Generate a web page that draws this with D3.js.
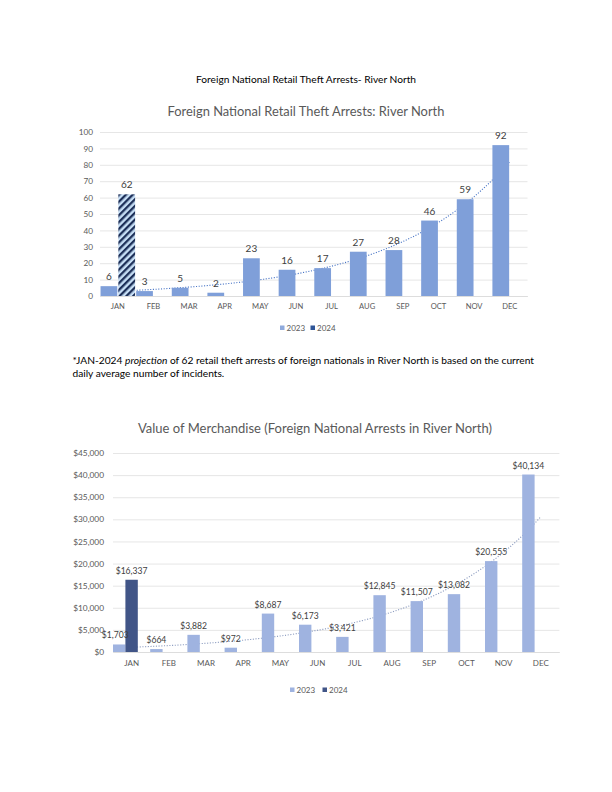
<!DOCTYPE html>
<html>
<head>
<meta charset="utf-8">
<script src="https://cdn.jsdelivr.net/npm/d3@7"></script>
<style>
  html, body { margin: 0; padding: 0; background: #fff; }
  svg { display: block; font-family: Lato, "Open Sans", sans-serif; }
</style>
</head>
<body>
<svg id="page" width="612" height="792"></svg>
<script>
// ---------- DATA ----------
const months = ["JAN","FEB","MAR","APR","MAY","JUN","JUL","AUG","SEP","OCT","NOV","DEC"];
const arrests2023 = [6,3,5,2,23,16,17,27,28,46,59,92];
const arrests2024 = [62];            // JAN-2024 projection
const value2023 = [1703,664,3882,972,8687,6173,3421,12845,11507,13082,20555,40134];
const value2024 = [16337];
const arrestTicks = [0,10,20,30,40,50,60,70,80,90,100];
const valueTicks = [0,5000,10000,15000,20000,25000,30000,35000,40000,45000];
const seriesNames = ["2023","2024"];

const pageTitle = "Foreign National Retail Theft Arrests- River North";
const chart1Title = "Foreign National Retail Theft Arrests: River North";
const chart2Title = "Value of Merchandise (Foreign National Arrests in River North)";

// ---------- helpers ----------
function expFit(vals) {
  const xs = vals.map((_, i) => i + 1);
  const ly = vals.map(v => Math.log(v));
  const mx = d3.mean(xs), my = d3.mean(ly);
  let sxy = 0, sxx = 0;
  xs.forEach((x, i) => { sxy += (x - mx) * (ly[i] - my); sxx += (x - mx) * (x - mx); });
  const b = sxy / sxx;
  const a = Math.exp(my - b * mx);
  return x => a * Math.exp(b * x);
}

const svg = d3.select("#page");

// defs: hatch pattern
const defs = svg.append("defs");
const pat = defs.append("pattern")
  .attr("id", "hatch")
  .attr("patternUnits", "userSpaceOnUse")
  .attr("width", 4.8).attr("height", 4.8)
  .attr("patternTransform", "rotate(45)");
pat.append("rect").attr("width", 4.8).attr("height", 4.8).attr("fill", "#c6def5");
pat.append("rect").attr("width", 2.3).attr("height", 4.8).attr("fill", "#1d2f58");

// page heading
svg.append("text")
  .attr("x", 306).attr("y", 82.5)
  .attr("text-anchor", "middle")
  .attr("font-size", 10.2)
  .attr("fill", "#000")
  .text(pageTitle);

// ================= CHART 1 =================
(function () {
  const left = 100, right = 527.5, top = 132, bottom = 296;
  const x = d3.scaleBand().domain(months).range([left, right]).padding(0);
  const x1 = d3.scaleBand().domain(seriesNames).range([0, x.bandwidth()]).paddingInner(0.06).paddingOuter(0.03);
  const y = d3.scaleLinear().domain([0, 100]).range([bottom, top]);
  const g = svg.append("g");

  g.append("text").attr("x", 306).attr("y", 115.5).attr("text-anchor", "middle")
    .attr("font-size", 12.9).attr("fill", "#595959").text(chart1Title);

  // grid
  const yAxis = d3.axisLeft(y).tickValues(arrestTicks).tickSize(-(right - left)).tickPadding(7);
  const ya = g.append("g").attr("transform", `translate(${left},0)`).call(yAxis);
  ya.select(".domain").remove();
  ya.selectAll(".tick line").attr("stroke", "#dedede").attr("stroke-width", 0.75);
  ya.selectAll(".tick text").attr("fill", "#595959").attr("font-size", 8.2).attr("font-family", "Lato");

  // x axis
  const xAxis = d3.axisBottom(x).tickSize(0).tickPadding(8);
  const xa = g.append("g").attr("transform", `translate(0,${bottom})`).call(xAxis);
  xa.select(".domain").attr("stroke", "#d9d9d9").attr("stroke-width", 0.75);
  xa.selectAll(".tick text").attr("fill", "#595959").attr("font-size", 7.6).attr("font-family", "Lato");

  // trendline (behind bars)
  const f = expFit(arrests2023);
  const tx = d3.scaleLinear().domain([1, 12]).range([x(months[0]) + x.bandwidth() / 2, x(months[11]) + x.bandwidth() / 2]);
  const pts = d3.range(1, 12.001, 0.1).map(i => [tx(i), y(f(i))]);
  g.append("path").attr("d", d3.line()(pts)).attr("fill", "none")
    .attr("stroke", "#4a76c6").attr("stroke-width", 1.1).attr("stroke-dasharray", "1.1,1.6");

  // bars 2023
  g.selectAll(".b23").data(arrests2023).join("rect")
    .attr("x", (d, i) => x(months[i]) + x1("2023"))
    .attr("y", d => y(d)).attr("width", x1.bandwidth()).attr("height", d => y(0) - y(d))
    .attr("fill", "#7f9fd9");
  // bar 2024
  g.selectAll(".b24").data(arrests2024).join("rect")
    .attr("x", (d, i) => x(months[i]) + x1("2024"))
    .attr("y", d => y(d)).attr("width", x1.bandwidth()).attr("height", d => y(0) - y(d))
    .attr("fill", "url(#hatch)");

  // labels
  g.selectAll(".l23").data(arrests2023).join("text")
    .attr("x", (d, i) => x(months[i]) + x1("2023") + x1.bandwidth() / 2)
    .attr("y", d => y(d) - 6).attr("text-anchor", "middle")
    .attr("font-size", 10).attr("fill", "#404040").text(d => d);
  g.selectAll(".l24").data(arrests2024).join("text")
    .attr("x", (d, i) => x(months[i]) + x1("2024") + x1.bandwidth() / 2)
    .attr("y", d => y(d) - 6).attr("text-anchor", "middle")
    .attr("font-size", 10).attr("fill", "#404040").text(d => d);

  // legend
  const lg = g.append("g");
  const items = [{n: "2023", c: "#8faadc", x: 280}, {n: "2024", c: "#2f5597", x: 310.5}];
  items.forEach(it => {
    lg.append("rect").attr("x", it.x).attr("y", 325.5).attr("width", 4.5).attr("height", 4.5).attr("fill", it.c);
    lg.append("text").attr("x", it.x + 6.5).attr("y", 331).attr("font-size", 8).attr("fill", "#595959").text(it.n);
  });
})();

// footnote
const fn = svg.append("text").attr("x", 72.5).attr("y", 363.5).attr("font-size", 10.2).attr("fill", "#000");
fn.append("tspan").text("*JAN-2024 ");
fn.append("tspan").attr("font-style", "italic").text("projection");
fn.append("tspan").text(" of 62 retail theft arrests of foreign nationals in River North is based on the current");
svg.append("text").attr("x", 72.5).attr("y", 377).attr("font-size", 10.2).attr("fill", "#000")
  .text("daily average number of incidents.");

// ================= CHART 2 =================
(function () {
  const left = 113, right = 559.4, top = 453, bottom = 652;
  const x = d3.scaleBand().domain(months).range([left, right]).padding(0);
  const x1 = d3.scaleBand().domain(["2023", "2024", "_"]).range([0, x.bandwidth()]).padding(0);
  const y = d3.scaleLinear().domain([0, 45000]).range([bottom, top]);
  const g = svg.append("g");
  const fmt = d => "$" + d3.format(",")(d);

  g.append("text").attr("x", 315).attr("y", 433).attr("text-anchor", "middle")
    .attr("font-size", 13).attr("fill", "#595959").text(chart2Title);

  const yAxis = d3.axisLeft(y).tickValues(valueTicks).tickSize(-(right - left)).tickPadding(9).tickFormat(fmt);
  const ya = g.append("g").attr("transform", `translate(${left},0)`).call(yAxis);
  ya.select(".domain").remove();
  ya.selectAll(".tick line").attr("stroke", "#dedede").attr("stroke-width", 0.75);
  ya.selectAll(".tick text").attr("fill", "#595959").attr("font-size", 8.3).attr("font-family", "Lato");

  const xAxis = d3.axisBottom(x).tickSize(0).tickPadding(8);
  const xa = g.append("g").attr("transform", `translate(0,${bottom})`).call(xAxis);
  xa.select(".domain").attr("stroke", "#d9d9d9").attr("stroke-width", 0.75);
  xa.selectAll(".tick text").attr("fill", "#595959").attr("font-size", 8).attr("font-family", "Lato");

  const f = expFit(value2023);
  const tx = d3.scaleLinear().domain([1, 12]).range([x(months[0]) + x.bandwidth() / 2, x(months[11]) + x.bandwidth() / 2]);
  const pts = d3.range(1, 12.001, 0.1).map(i => [tx(i), y(f(i))]);
  g.append("path").attr("d", d3.line()(pts)).attr("fill", "none")
    .attr("stroke", "#8b9bbf").attr("stroke-width", 1.1).attr("stroke-dasharray", "1.1,1.6");

  g.selectAll(".b23").data(value2023).join("rect")
    .attr("x", (d, i) => x(months[i]) + x1("2023"))
    .attr("y", d => y(d)).attr("width", x1.bandwidth()).attr("height", d => y(0) - y(d))
    .attr("fill", "#9fb3e0");
  g.selectAll(".b24").data(value2024).join("rect")
    .attr("x", (d, i) => x(months[i]) + x1("2024"))
    .attr("y", d => y(d)).attr("width", x1.bandwidth()).attr("height", d => y(0) - y(d))
    .attr("fill", "#415587");

  g.selectAll(".l23").data(value2023).join("text")
    .attr("x", (d, i) => x(months[i]) + x1("2023") + x1.bandwidth() / 2 + (i === 0 ? -4 : 0))
    .attr("y", d => y(d) - 6).attr("text-anchor", "middle")
    .attr("font-size", 8.6).attr("fill", "#404040").text(fmt);
  g.selectAll(".l24").data(value2024).join("text")
    .attr("x", (d, i) => x(months[i]) + x1("2024") + x1.bandwidth() / 2)
    .attr("y", d => y(d) - 6).attr("text-anchor", "middle")
    .attr("font-size", 8.6).attr("fill", "#404040").text(fmt);

  const lg = g.append("g");
  const items = [{n: "2023", c: "#9fb3e0", x: 290}, {n: "2024", c: "#415587", x: 322.5}];
  items.forEach(it => {
    lg.append("rect").attr("x", it.x).attr("y", 687.5).attr("width", 4.5).attr("height", 4.5).attr("fill", it.c);
    lg.append("text").attr("x", it.x + 6.5).attr("y", 693).attr("font-size", 8).attr("fill", "#595959").text(it.n);
  });
})();
</script>
</body>
</html>
